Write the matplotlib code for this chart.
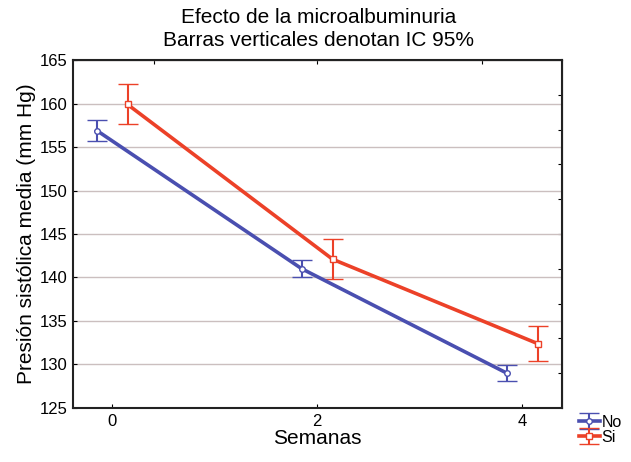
import numpy as np
import matplotlib
matplotlib.use("Agg")
import matplotlib.pyplot as plt

# ─── Data ──────────────────────────────────────────────────────────────────────
semanas = [0, 2, 4]
no_mean = [156.9, 141.0, 129.0]
no_ci = [1.2, 1.0, 0.9]
si_mean = [159.9, 142.1, 132.4]
si_ci = [2.3, 2.3, 2.0]
yticks = [125, 130, 135, 140, 145, 150, 155, 160, 165]

BLUE = "#4a4fb0"
RED = "#ec4128"

plt.rcParams["font.family"] = ["Liberation Sans", "DejaVu Sans"]

fig = plt.figure(figsize=(6.31, 4.62), dpi=100)
ax = fig.add_axes([0.116, 0.117, 0.775, 0.753])

off = 0.15
x = np.array(semanas, dtype=float)
eb_no = ax.errorbar(x - off, no_mean, yerr=no_ci, color=BLUE, lw=2.6, capsize=7, capthick=1.5,
                    elinewidth=1.5, marker="o", ms=4, mfc="white", mec=BLUE, mew=1, label="No", zorder=3)
eb_si = ax.errorbar(x + off, si_mean, yerr=si_ci, color=RED, lw=2.6, capsize=7, capthick=1.5,
                    elinewidth=1.5, marker="s", ms=4, mfc="white", mec=RED, mew=1, label="Si", zorder=3)

ax.set_xlim(-0.38, 4.39)
ax.set_ylim(125, 165)
ax.set_xticks(semanas)
ax.set_yticks(yticks)
ax.tick_params(direction="in", labelsize=12, length=3, pad=4)
ax.grid(axis="y", color="#cbbfbf", lw=1)
ax.set_axisbelow(True)
for s in ax.spines.values():
    s.set_linewidth(1.5)
    s.set_color("#222222")

# secondary tick marks on the top and right frame
top = ax.secondary_xaxis("top")
top.set_xticks([0.41, 2.0, 3.61])
top.tick_params(direction="in", length=3, labeltop=False)
right = ax.secondary_yaxis("right")
right.set_yticks(np.arange(129, 162, 4))
right.tick_params(direction="in", length=3, labelright=False)

ax.set_xlabel("Semanas", fontsize=15, labelpad=0)
ax.set_ylabel("Presión sistólica media (mm Hg)", fontsize=15, labelpad=3)
fig.text(0.505, 0.963, "Efecto de la microalbuminuria", ha="center", va="center", fontsize=15)
fig.text(0.505, 0.913, "Barras verticales denotan IC 95%", ha="center", va="center", fontsize=15)

ax.legend(handles=[eb_no, eb_si], loc="upper left", bbox_to_anchor=(0.905, 0.12),
          bbox_transform=fig.transFigure, frameon=False, fontsize=11.5,
          handlelength=1.3, handletextpad=0.1, labelspacing=0.02, borderpad=0)

fig.savefig("out.png", dpi=100)
